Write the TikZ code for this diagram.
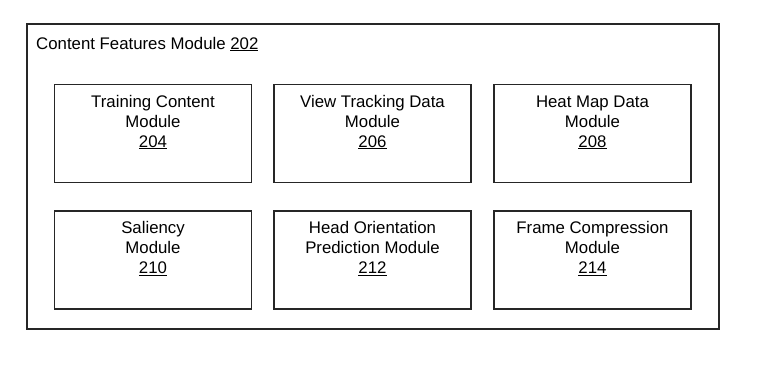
\documentclass[tikz,border=0pt]{standalone}
\usepackage{fontspec}
\setmainfont{Liberation Sans}
\newcommand{\firstup}{\rule{0pt}{13pt}}
\begin{document}
\begin{tikzpicture}[x=1pt,y=-1pt,
  linecol/.style={draw=black!85,line width=1.6pt},
  modbox/.style={linecol,rectangle,minimum width=197pt,minimum height=98pt,inner sep=0pt},
  modtext/.style={anchor=north,align=center,inner sep=0pt,font=\fontsize{16.8}{20}\selectfont}]
\useasboundingbox (0,0) rectangle (766,376);
\node[linecol,rectangle,minimum width=692pt,minimum height=305pt,inner sep=0pt] (outer) at (373,176.5) {};
\node[anchor=west,inner sep=0pt,font=\fontsize{16.8}{20}\selectfont] (title) at (36,44) {Content Features Module \underline{202}};
\node[modbox] (b204) at (153,133.5) {};
\node[modbox] (b206) at (372.5,133.5) {};
\node[modbox] (b208) at (592.5,133.5) {};
\node[modbox] (b210) at (153,260) {};
\node[modbox] (b212) at (372.5,260) {};
\node[modbox] (b214) at (592.5,260) {};
\node[modtext] (t204) at ([yshift=-10.2pt]b204.north) {\firstup Training Content\\Module\\\underline{204}};
\node[modtext] (t206) at ([yshift=-10.2pt]b206.north) {\firstup View Tracking Data\\Module\\\underline{206}};
\node[modtext] (t208) at ([yshift=-10.2pt]b208.north) {\firstup Heat Map Data\\Module\\\underline{208}};
\node[modtext] (t210) at ([yshift=-10.2pt]b210.north) {\firstup Saliency\\Module\\\underline{210}};
\node[modtext] (t212) at ([yshift=-10.2pt]b212.north) {\firstup Head Orientation\\Prediction Module\\\underline{212}};
\node[modtext] (t214) at ([yshift=-10.2pt]b214.north) {\firstup Frame Compression\\Module\\\underline{214}};
\end{tikzpicture}
\end{document}
